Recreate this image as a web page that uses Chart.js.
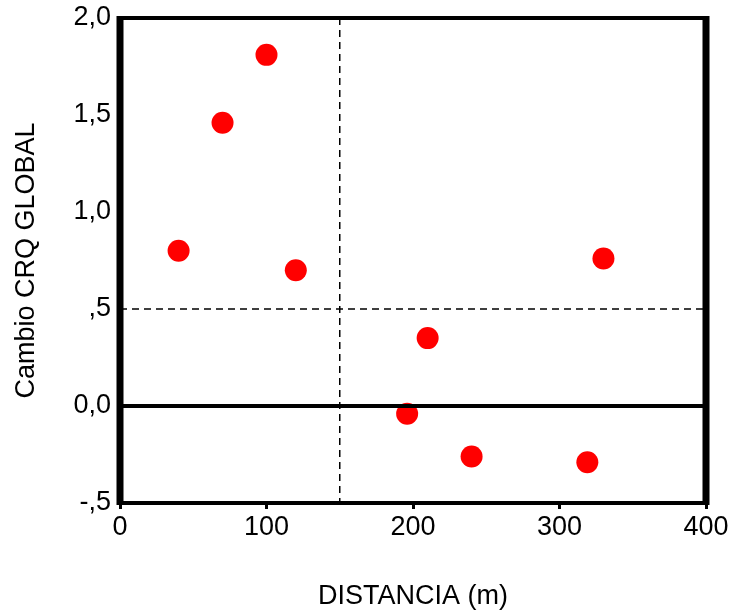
<!DOCTYPE html>
<html>
<head>
<meta charset="utf-8">
<script src="https://cdn.jsdelivr.net/npm/chart.js@4/dist/chart.umd.min.js"></script>
<style>
  body { margin: 0; background: #fff; }
  canvas { display: block; }
</style>
</head>
<body>
<canvas id="crqChart" width="733" height="613"></canvas>
<script>
// distancia (m) y cambio CRQ global
const distancias = [40, 70, 100, 120, 196, 210, 240, 319, 330];
const cambiosCRQ = [0.80, 1.46, 1.81, 0.70, -0.04, 0.35, -0.26, -0.29, 0.76];

const xTicks = [0, 100, 200, 300, 400];
const yTicks = [-0.5, 0, 0.5, 1.0, 1.5, 2.0];
const yTickLabels = ['-,5', '0,0', ',5', '1,0', '1,5', '2,0'];

const refX = 150;
const refY = 0.5;

const points = distancias.map((d, i) => ({ x: d, y: cambiosCRQ[i] }));

// lineas de referencia y marco del grafico
const marcoPlugin = {
    id: 'marco',
    beforeDatasetsDraw(chart) {
        const { ctx, chartArea: a, scales: { x, y } } = chart;
        ctx.save();
        ctx.strokeStyle = '#000';
        ctx.lineWidth = 1.5;
        ctx.setLineDash([7, 5]);
        const px = x.getPixelForValue(refX);
        const py = y.getPixelForValue(refY);
        ctx.beginPath();
        ctx.moveTo(px, a.top);
        ctx.lineTo(px, a.bottom);
        ctx.moveTo(a.left, py);
        ctx.lineTo(a.right, py);
        ctx.stroke();
        ctx.restore();
    },
    afterDatasetsDraw(chart) {
        const { ctx, chartArea: a, scales: { y } } = chart;
        ctx.save();
        ctx.strokeStyle = '#000';
        ctx.setLineDash([]);
        // linea en cero
        const y0 = y.getPixelForValue(0);
        ctx.lineWidth = 4;
        ctx.beginPath();
        ctx.moveTo(a.left, y0);
        ctx.lineTo(a.right, y0);
        ctx.stroke();
        // arriba y abajo
        ctx.beginPath();
        ctx.moveTo(a.left, a.top);
        ctx.lineTo(a.right, a.top);
        ctx.moveTo(a.left, a.bottom);
        ctx.lineTo(a.right, a.bottom);
        ctx.stroke();
        // lados gruesos
        ctx.lineWidth = 7;
        ctx.beginPath();
        ctx.moveTo(a.left, a.top - 2);
        ctx.lineTo(a.left, a.bottom + 2);
        ctx.moveTo(a.right, a.top - 2);
        ctx.lineTo(a.right, a.bottom + 2);
        ctx.stroke();
        ctx.restore();
    }
};

const fontBase = { family: '"Liberation Sans", Arial, sans-serif', size: 27 };

new Chart(document.getElementById('crqChart').getContext('2d'), {
    type: 'scatter',
    data: {
        datasets: [{
            data: points,
            backgroundColor: '#ff0000',
            borderWidth: 0,
            pointRadius: 11,
            pointHoverRadius: 11
        }]
    },
    options: {
        responsive: false,
        animation: false,
        layout: { padding: { top: 18, right: 27, left: 0, bottom: 0 } },
        plugins: { legend: { display: false }, tooltip: { enabled: false } },
        scales: {
            x: {
                type: 'linear',
                min: 0,
                max: 400,
                afterBuildTicks: scale => { scale.ticks = xTicks.map(v => ({ value: v })); },
                afterFit: scale => { scale.height = 110; scale.paddingLeft = 0; scale.paddingRight = 0; },
                border: { display: false },
                grid: { drawOnChartArea: false, drawTicks: true, tickLength: 6, color: '#000', lineWidth: 3 },
                ticks: { color: '#000', font: fontBase, padding: 2, maxRotation: 0 },
                title: { display: true, text: 'DISTANCIA (m)', color: '#000', font: fontBase, padding: { top: 0, bottom: 0 } }
            },
            y: {
                type: 'linear',
                min: -0.5,
                max: 2.0,
                afterBuildTicks: scale => { scale.ticks = yTicks.map(v => ({ value: v })); },
                afterFit: scale => { scale.width = 120; scale.paddingTop = 0; scale.paddingBottom = 0; },
                border: { display: false },
                grid: { display: false, drawTicks: false },
                ticks: {
                    color: '#000',
                    font: fontBase,
                    padding: 9,
                    callback: (v) => {
                        const i = yTicks.findIndex(t => Math.abs(t - v) < 1e-9);
                        return i >= 0 ? yTickLabels[i] : '';
                    }
                },
                title: { display: true, text: 'Cambio CRQ GLOBAL', color: '#000', font: fontBase, padding: { top: 10, bottom: 0 } }
            }
        }
    },
    plugins: [marcoPlugin]
});
</script>
</body>
</html>
